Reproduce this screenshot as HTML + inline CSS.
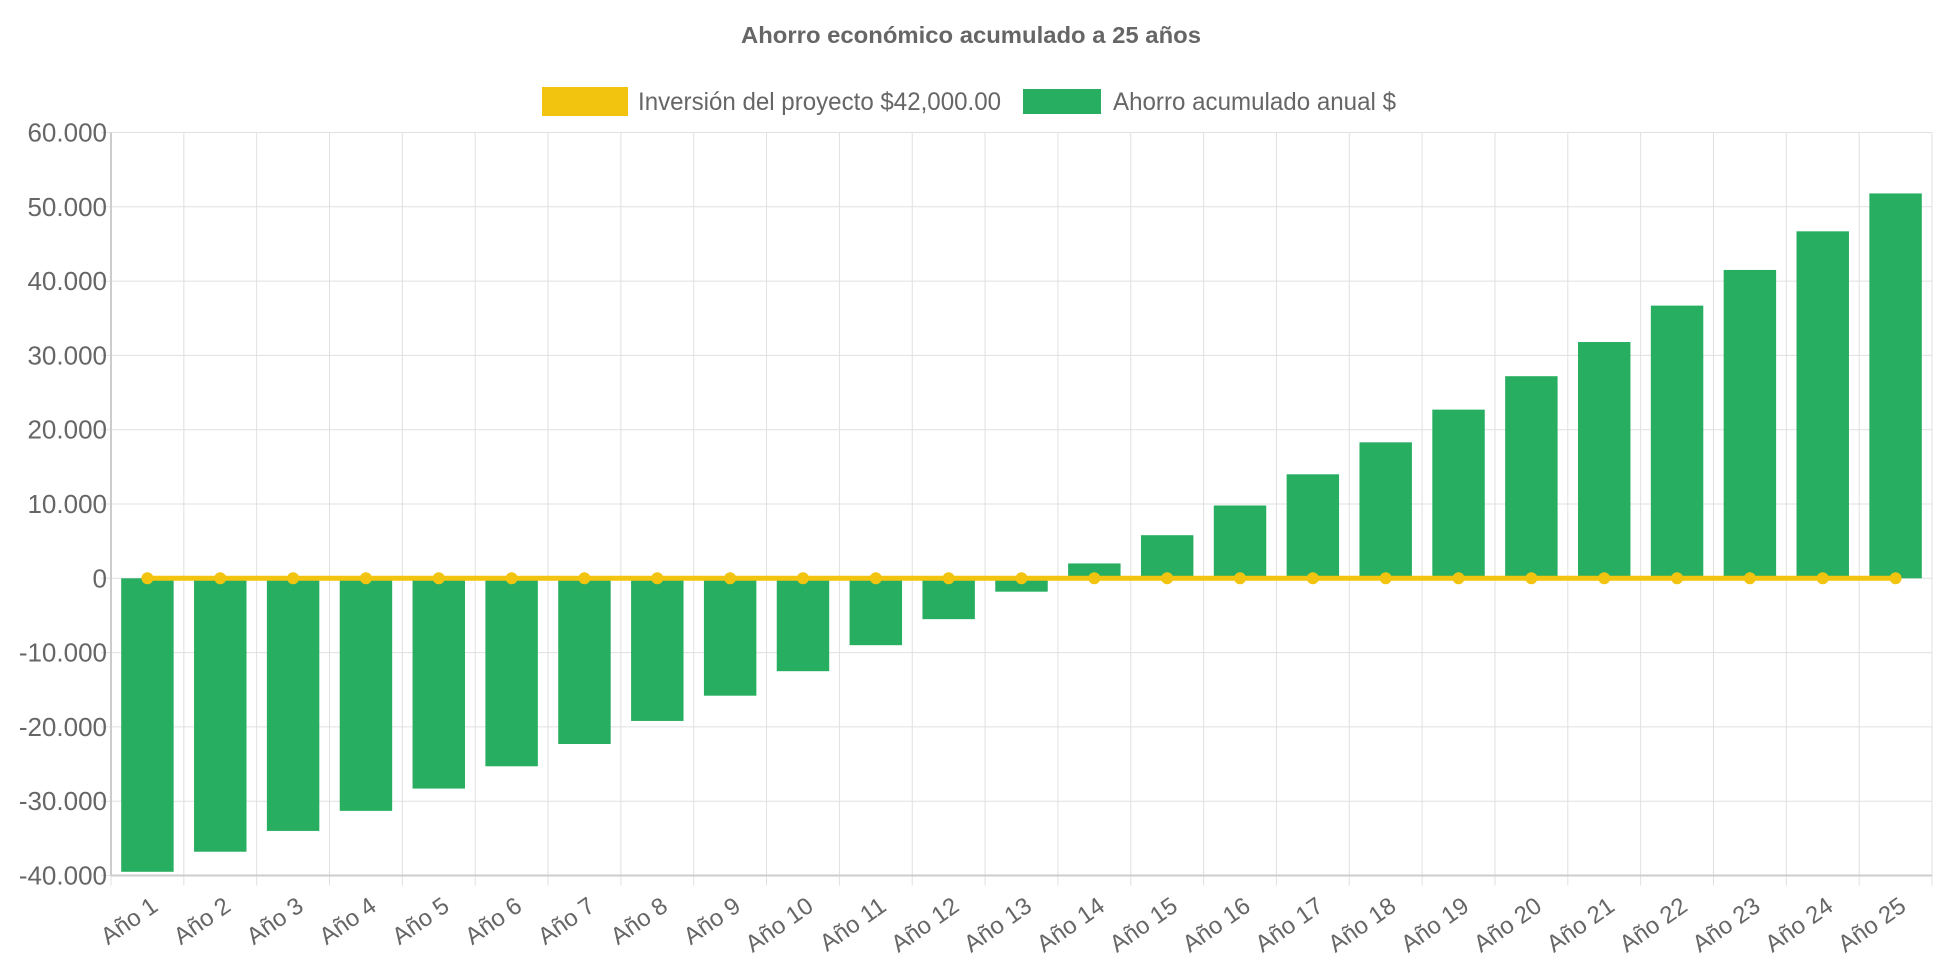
<!DOCTYPE html>
<html><head><meta charset="utf-8"><style>
body{margin:0;background:#fff;font-family:"Liberation Sans",sans-serif;}
svg{display:block}
</style></head><body>
<svg id="chart" width="1942" height="970" xmlns="http://www.w3.org/2000/svg">
<text x="971" y="43" text-anchor="middle" font-size="23" font-weight="bold" fill="#666" textLength="460" lengthAdjust="spacingAndGlyphs">Ahorro económico acumulado a 25 años</text>
<g>
<rect x="542" y="87" width="86" height="29" fill="#f2c40f"/>
<text x="638" y="110" font-size="25" fill="#666" textLength="363" lengthAdjust="spacingAndGlyphs">Inversión del proyecto $42,000.00</text>
<rect x="1023" y="89" width="78" height="25" fill="#27ae60"/>
<text x="1113" y="110" font-size="25" fill="#666" textLength="283" lengthAdjust="spacingAndGlyphs">Ahorro acumulado anual $</text>
</g>
<g id="grid"></g><g id="bars"></g><g id="line"></g><g id="axes"></g>
</svg>
<script>
const categories=[];for(let i=1;i<=25;i++)categories.push('Año '+i);
const savings=[-39500,-36800,-34000,-31300,-28300,-25300,-22300,-19200,-15800,-12500,-9000,-5500,-1800,2000,5800,9800,14000,18300,22700,27200,31800,36700,41500,46700,51800];
const investment=[0,0,0,0,0,0,0,0,0,0,0,0,0,0,0,0,0,0,0,0,0,0,0,0,0];
const yTicks=[60000,50000,40000,30000,20000,10000,0,-10000,-20000,-30000,-40000];
const yTickLabels=['60.000','50.000','40.000','30.000','20.000','10.000','0','-10.000','-20.000','-30.000','-40.000'];
const L=111,R=1932,T=132.5,B=875.5,yMin=-40000,yMax=60000;
const NS='http://www.w3.org/2000/svg';
const cw=(R-L)/categories.length;
function y(v){return B-(v-yMin)/(yMax-yMin)*(B-T);}
function xc(i){return L+cw*(i+0.5);}
function mk(tag,attrs,parent){const e=document.createElementNS(NS,tag);for(const k in attrs)e.setAttribute(k,attrs[k]);document.getElementById(parent).appendChild(e);return e;}
yTicks.forEach((t,i)=>{
 const g=mk('line',{x1:L-10,x2:R,y1:y(t),y2:y(t),stroke:'#e0e0e0','stroke-width':1},'grid');
 
 
 const tx=mk('text',{x:L-4,y:y(t)+9,'text-anchor':'end','font-size':26,fill:'#666'},'axes');
 tx.textContent=yTickLabels[i];
 
 
});
for(let i=0;i<=categories.length;i++){
 const x=L+cw*i;
 const g=mk('line',{x1:x,x2:x,y1:T,y2:B+10,stroke:'#e0e0e0','stroke-width':1},'grid');
 
 
}
const ax=mk('line',{x1:L,x2:L,y1:T,y2:B,stroke:'#ccc','stroke-width':2},'axes');


const ax2=mk('line',{x1:L,x2:R,y1:B,y2:B,stroke:'#ccc','stroke-width':2},'axes');


const bw=cw*0.72;
savings.forEach((v,i)=>{
 const y0=y(0),y1=y(v);
 const r=mk('rect',{x:xc(i)-bw/2,y:Math.min(y0,y1),width:bw,height:Math.abs(y1-y0),fill:'#27ae60'},'bars');
 
 
});
categories.forEach((c,i)=>{
 const x=xc(i)+12,yy=B+34;
 const t=mk('text',{x:x,y:yy,'text-anchor':'end','font-size':24,fill:'#666',transform:`rotate(-35 ${x} ${yy})`},'axes');
 t.textContent=c;
 
 
});
const pts=investment.map((v,i)=>xc(i)+','+y(v)).join(' ');
const pl=mk('polyline',{points:pts,fill:'none',stroke:'#f2c40f','stroke-width':5},'line');


investment.forEach((v,i)=>{
 const c=mk('circle',{cx:xc(i),cy:y(v),r:6,fill:'#f2c40f'},'line');
 
 
});
</script>
</body></html>
